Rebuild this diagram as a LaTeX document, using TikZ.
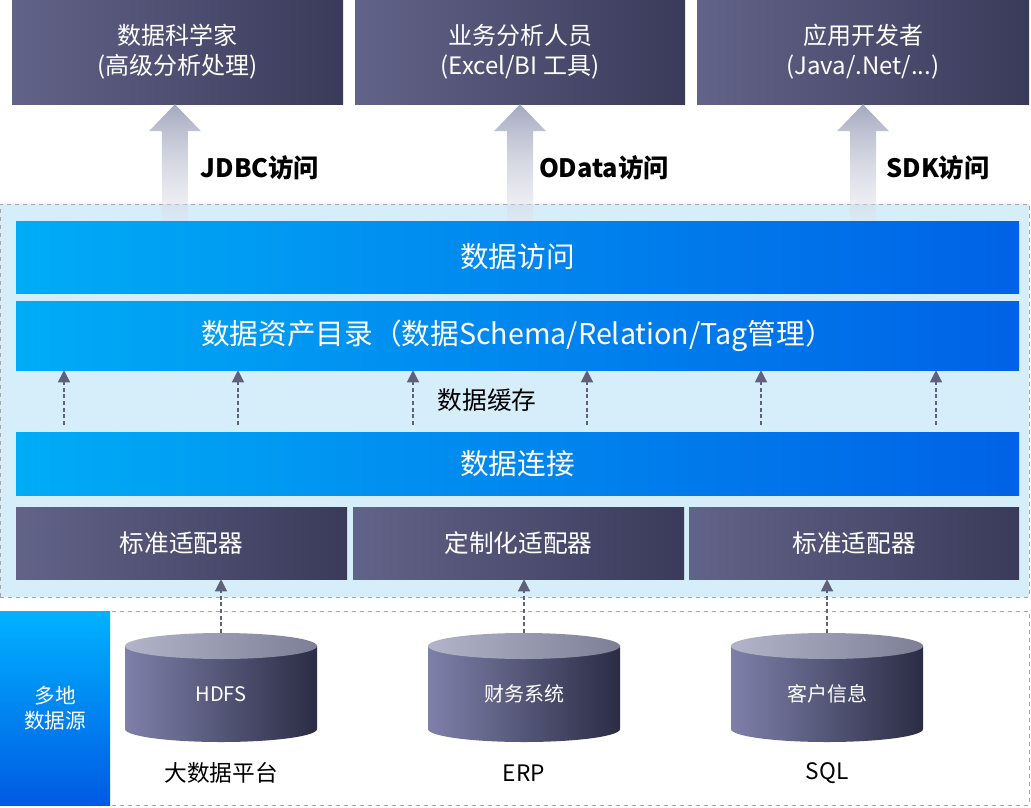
\documentclass[tikz,border=0pt]{standalone}
\usepackage{fontspec}
\setmainfont{Noto Sans CJK SC}
\usepackage{tikz}
\usetikzlibrary{
  arrows.meta,
  positioning,
  fadings
}
\usepackage{xcolor}
\definecolor{slatelight}{RGB}{98,99,136}
\definecolor{slatedark}{RGB}{58,58,90}
\definecolor{barlight}{RGB}{0,172,246}
\definecolor{bardark}{RGB}{0,98,230}
\definecolor{srclight}{RGB}{0,178,255}
\definecolor{srcdark}{RGB}{0,90,226}
\definecolor{panelblue}{RGB}{214,237,250}
\definecolor{bordergray}{RGB}{166,166,166}
\definecolor{arrowtop}{RGB}{165,169,192}
\definecolor{arrowbottom}{RGB}{225,227,236}
\definecolor{arrowslate}{RGB}{94,96,124}
\definecolor{cyllight}{RGB}{126,128,170}
\definecolor{cyldark}{RGB}{43,44,68}
\definecolor{lidlight}{RGB}{178,180,202}
\definecolor{liddark}{RGB}{125,127,150}

\tikzfading[name=arrowfade, top color=transparent!0, bottom color=transparent!65]

\begin{document}
\begin{tikzpicture}[x=0.75pt, y=-0.75pt,
  pxsize/.style 2 args={minimum width=#1*0.75pt, minimum height=#2*0.75pt, inner sep=0pt},
  slatebox/.style={left color=slatelight, right color=slatedark,
                   text=white, align=center},
  bluebar/.style={pxsize={1003}{#1}, left color=barlight, right color=bardark,
                  text=white, font=\fontsize{21.5}{26}\selectfont},
  panel/.style={draw=bordergray, dashed, line width=0.7pt},
  bigarrow/.style={top color=arrowtop, bottom color=arrowbottom, path fading=arrowfade},
  dasharrow/.style={-{Triangle[length=9pt, width=9pt]}, draw=arrowslate,
                    dash pattern=on 3pt off 2pt, line width=0.9pt},
  lbl/.style={font=\fontsize{19}{22}\selectfont\bfseries}
]
  \useasboundingbox (0,0) rectangle (1031,807);

  % Three user groups
  \node[slatebox, pxsize={331}{104}, font=\fontsize{18}{22.5}\selectfont] (sci) at (177.5,52)
    {数据科学家\\(高级分析处理)};
  \node[slatebox, pxsize={330}{104}, font=\fontsize{18}{22.5}\selectfont] (biz) at (520,52)
    {业务分析人员\\(Excel/BI 工具)};
  \node[slatebox, pxsize={332}{104}, font=\fontsize{18}{22.5}\selectfont] (dev) at (863,52)
    {应用开发者\\(Java/.Net/...)};

  % Platform panel
  \node[panel, pxsize={1029}{393}, fill=panelblue] (upper) at (514.5,400.5) {};

  % Access arrows
  \shade[bigarrow] ([xshift=-1.9pt]sci.south) -- ++(26,27) -- ++(-13,0) -- ++(0,92)
    -- ++(-26,0) -- ++(0,-92) -- ++(-13,0) -- cycle;
  \shade[bigarrow] (biz.south) -- ++(26,27) -- ++(-13,0) -- ++(0,92)
    -- ++(-26,0) -- ++(0,-92) -- ++(-13,0) -- cycle;
  \shade[bigarrow] (dev.south) -- ++(26,27) -- ++(-13,0) -- ++(0,92)
    -- ++(-26,0) -- ++(0,-92) -- ++(-13,0) -- cycle;

  % Labels on arrows
  \node[lbl] (jdbc)  at (260,168) {JDBC访问};
  \node[lbl] (odata) at (604,168) {OData访问};
  \node[lbl] (sdk)   at (938,168) {SDK访问};

  % Layers
  \node[bluebar=72] (access) at (517.5,257) {数据访问};
  \node[bluebar=69] (catalog) at (517.5,335.5)
    {数据资产目录（数据Schema/Relation/Tag管理）};
  \node[font=\fontsize{18.5}{22}\selectfont] (cache) at (487,400) {数据缓存};
  \node[bluebar=63] (connect) at (517.5,463.5) {数据连接};

  \foreach \x in {64,238,413,587,761,936}
    \draw[dasharrow, shorten <=5pt] (connect.north -| \x,0) -- (catalog.south -| \x,0);

  % Adapters
  \node[slatebox, pxsize={331}{72}, font=\fontsize{18.5}{22}\selectfont] (std1) at (181.5,543) {标准适配器};
  \node[slatebox, pxsize={331}{72}, font=\fontsize{18.5}{22}\selectfont] (custom) at (518.5,543) {定制化适配器};
  \node[slatebox, pxsize={330}{72}, font=\fontsize{18.5}{22}\selectfont] (std2) at (854,543) {标准适配器};

  % Data sources
  \node[panel, pxsize={1029}{194}, fill=white] (lower) at (514.5,708) {};
  \node[pxsize={110}{194}, top color=srclight, bottom color=srcdark,
        text=white, align=center, font=\fontsize{15.5}{19}\selectfont] (multi) at (55,708) {多地\\数据源};

  \foreach \cx/\nm/\txt/\sub/\ad in {221/hdfs/HDFS/大数据平台/std1,
                                     524/erp/财务系统/ERP/custom,
                                     827/sql/客户信息/SQL/std2} {
    \shade[left color=cyllight, right color=cyldark]
      (\cx-96,646) -- (\cx-96,729) arc[start angle=180, end angle=0, x radius=96, y radius=13]
      -- (\cx+96,646) -- cycle;
    \shade[left color=lidlight, right color=liddark] (\cx,646) ellipse[x radius=96, y radius=13];
    \coordinate (\nm-top) at (\cx,633);
    \node[text=white, font=\fontsize{15}{18}\selectfont] (\nm) at (\cx,694) {\txt};
    \node[font=\fontsize{17}{20}\selectfont] (\nm-lbl) at (\cx,773) {\sub};
    \draw[dasharrow] (\nm-top) -- (\ad.south -| \nm-top);
  }
\end{tikzpicture}
\end{document}
